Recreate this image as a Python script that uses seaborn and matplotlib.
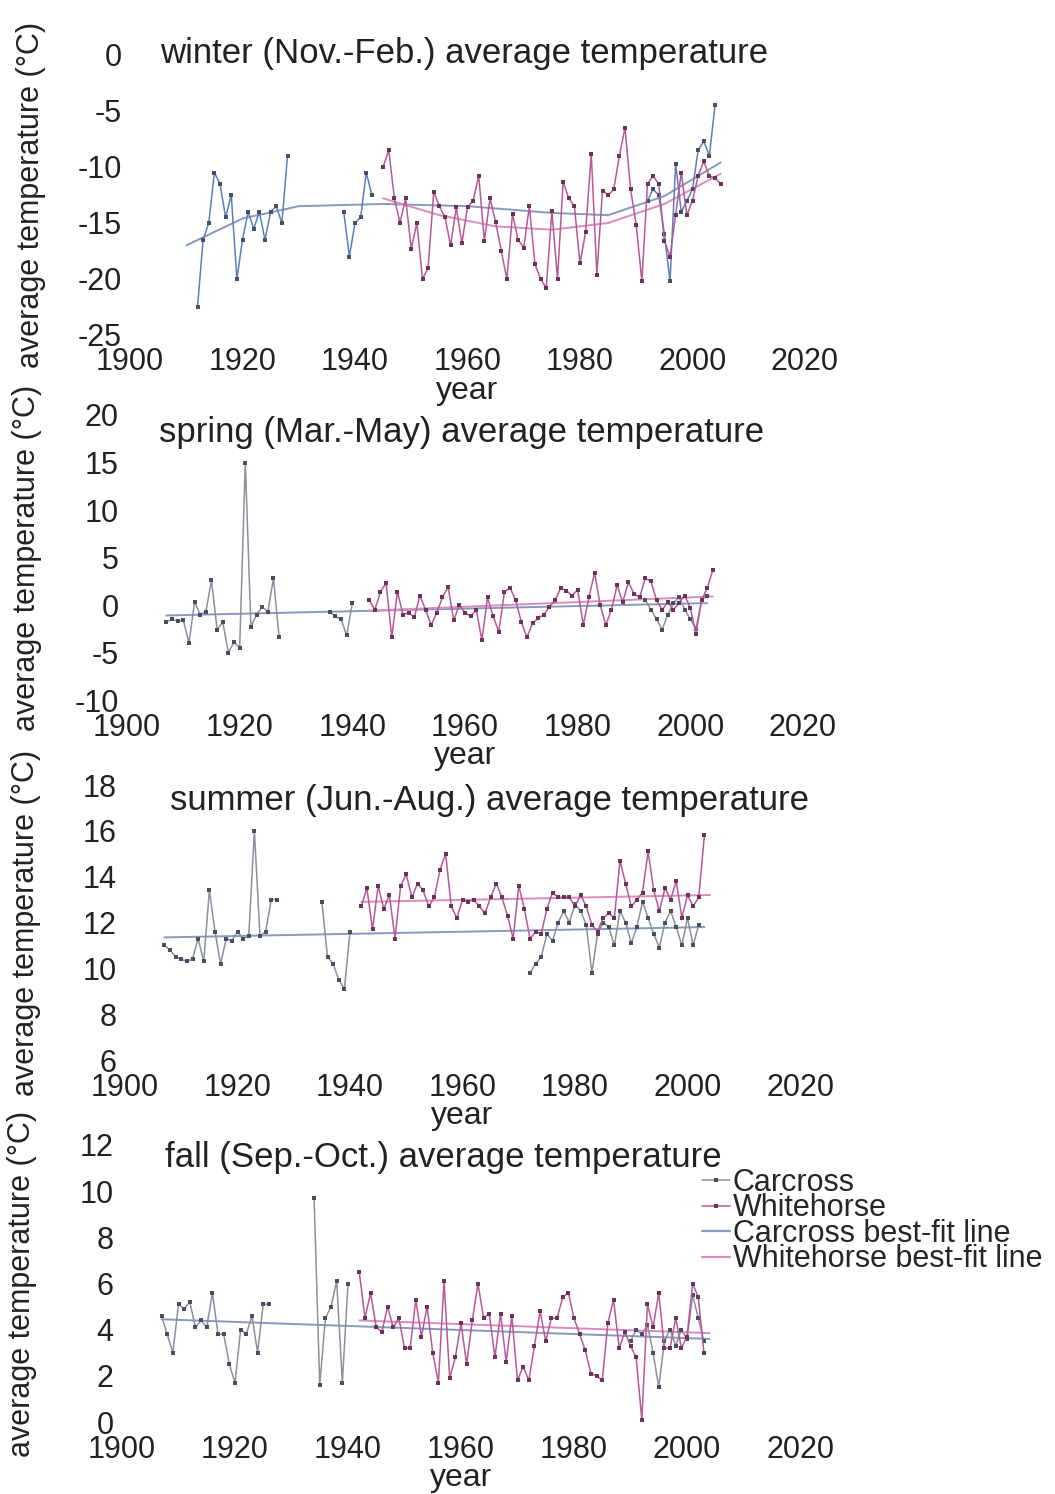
import numpy as np
import pandas as pd
import matplotlib
matplotlib.use("Agg")
import matplotlib.pyplot as plt
import seaborn as sns
from matplotlib.lines import Line2D

# ---------------- data ----------------
# winter (Nov.-Feb.)
winter_cc_a_start = 1912
winter_cc_a = [-22.5, -16.5, -15.0, -10.5, -11.5, -14.5, -12.5, -20.0, -16.5, -14.0,
               -15.5, -14.0, -16.5, -14.0, -13.5, -15.0, -9.0]
winter_cc_b_start = 1938
winter_cc_b = [-14.0, -18.0, -15.0, -14.5, -10.5, -12.5]
winter_cc_c_start = 1992
winter_cc_c = [-13.0, -12.0, -12.5, -16.0, -20.2, -9.7, -14.0, -13.0, -12.0, -8.5,
               -7.7, -9.0, -4.5]
winter_wh_start = 1945
winter_wh = [-10.0, -8.5, -12.8, -15.0, -12.8, -17.3, -15.0, -20.0, -19.0, -12.2,
             -13.5, -14.5, -17.0, -13.6, -16.8, -13.6, -13.0, -10.8, -16.6, -12.8,
             -14.9, -17.5, -20.0, -14.2, -16.5, -17.2, -13.5, -18.7, -20.0, -20.8,
             -13.9, -20.0, -11.3, -12.8, -13.5, -18.6, -15.8, -8.8, -19.6, -12.1,
             -12.5, -12.0, -9.0, -6.5, -12.0, -15.2, -20.2, -11.5, -10.8, -11.5,
             -16.6, -18.0, -14.3, -10.5, -14.3, -13.0, -10.8, -9.5, -10.8, -11.0, -11.5]
winter_cc_fit_years = [1910, 1920, 1930, 1945, 1960, 1975, 1985, 1995, 2005]
winter_cc_fit = [-17.0, -14.6, -13.5, -13.3, -13.5, -14.1, -14.3, -12.6, -9.6]
winter_wh_fit_years = [1945, 1955, 1965, 1975, 1985, 1995, 2005]
winter_wh_fit = [-12.8, -14.3, -15.3, -15.6, -15.0, -13.3, -10.6]

# spring (Mar.-May)
spring_cc_a_start = 1907
spring_cc_a = [-1.8, -1.5, -1.7, -1.6, -4.0, 0.3, -1.0, -0.7, 2.6, -2.6,
               -1.8, -5.0, -3.9, -4.5, 15.0, -2.3, -1.0, -0.2, -0.7, 2.8, -3.4]
spring_cc_b_start = 1936
spring_cc_b = [-0.7, -1.2, -1.5, -3.2, 0.2]
spring_cc_c_start = 1992
spring_cc_c = [0.5, -0.5, -1.5, -2.6, -1.0, 0.2, 0.8, -0.5, -1.5, -2.5, 0.5, 1.0]
spring_wh_start = 1943
spring_wh = [0.5, -0.5, 1.4, 2.3, -3.4, 1.4, -1.0, -0.8, -1.3, 1.0,
             -0.5, -2.1, -0.8, 0.8, 1.9, -1.6, 0.0, -0.8, -1.2, -0.5,
             -3.7, 0.8, -1.2, -2.8, 1.4, 1.8, 0.5, -1.8, -3.4, -1.9,
             -1.4, -1.0, -0.2, 0.5, 1.8, 1.5, 1.0, 1.6, -2.1, 0.8,
             3.4, 0.0, -2.1, -0.5, 2.1, 0.3, 2.4, 1.2, 0.8, 2.8,
             2.5, 0.5, -0.5, 0.3, -0.5, 0.2, 1.0, -0.3, -3.0, 0.5, 1.8, 3.7]
spring_cc_fit_years = [1907, 2003]
spring_cc_fit = [-1.1, 0.2]
spring_wh_fit_years = [1943, 2004]
spring_wh_fit = [-0.6, 0.9]

# summer (Jun.-Aug.)
summer_cc_a_start = 1907
summer_cc_a = [11.0, 10.8, 10.5, 10.4, 10.3, 10.4, 11.3, 10.3, 13.4, 11.6,
               10.2, 11.3, 11.2, 11.6, 11.3, 11.4, 16.0, 11.4, 11.6, 13.0, 13.0]
summer_cc_b_start = 1935
summer_cc_b = [12.9, 10.5, 10.2, 9.5, 9.1, 11.6]
summer_cc_c_start = 1972
summer_cc_c = [9.8, 10.2, 10.5, 11.5, 11.2, 12.0, 12.5, 12.0, 12.8, 12.5,
               11.9, 9.8, 11.5, 12.0, 11.8, 11.0, 12.5, 12.0, 11.1, 11.8,
               12.9, 12.2, 11.5, 10.9, 12.0, 12.5, 11.8, 11.0, 12.2, 11.0, 11.9]
summer_wh_start = 1942
summer_wh = [12.7, 13.5, 11.7, 13.6, 12.6, 13.2, 11.3, 13.6, 14.1, 13.1,
             13.7, 13.4, 12.7, 13.1, 14.3, 15.0, 12.7, 12.2, 13.0, 12.9,
             13.0, 12.7, 12.4, 13.1, 13.7, 13.1, 12.3, 11.3, 13.6, 12.6,
             11.3, 11.6, 11.5, 12.6, 13.3, 13.1, 13.1, 13.1, 12.7, 13.2,
             12.7, 11.9, 11.6, 12.2, 12.4, 12.2, 14.7, 13.7, 12.7, 13.0,
             13.3, 15.1, 13.4, 12.5, 13.5, 13.0, 13.8, 12.2, 13.2, 12.7, 13.1, 15.8]
summer_cc_fit_years = [1907, 2003]
summer_cc_fit = [11.35, 11.8]
summer_wh_fit_years = [1942, 2004]
summer_wh_fit = [12.9, 13.2]

# fall (Sep.-Oct.)
fall_cc_a_start = 1907
fall_cc_a = [4.6, 3.8, 3.0, 5.1, 4.9, 5.2, 4.1, 4.4, 4.1, 5.6,
             3.8, 3.8, 2.5, 1.7, 4.0, 3.8, 4.6, 3.0, 5.1, 5.1]
fall_cc_b_start = 1934
fall_cc_b = [9.7, 1.6, 4.5, 5.0, 6.1, 1.7, 6.0]
fall_cc_c_start = 1990
fall_cc_c = [3.5, 4.0, 3.8, 4.2, 3.0, 1.5, 3.5, 4.0, 3.3, 4.0, 3.6, 5.5, 4.5, 3.5]
fall_wh_start = 1942
fall_wh = [6.5, 4.5, 5.6, 4.1, 3.9, 5.0, 4.1, 4.5, 3.2, 3.2,
           5.3, 3.7, 5.0, 3.0, 1.7, 6.1, 1.9, 2.8, 4.3, 2.5,
           4.4, 6.0, 4.5, 4.7, 2.8, 4.7, 2.6, 4.6, 1.8, 2.4,
           1.8, 3.3, 4.8, 3.5, 4.5, 4.5, 5.4, 5.6, 4.5, 3.8,
           3.1, 2.1, 2.0, 1.8, 4.3, 5.3, 3.2, 3.9, 3.3, 2.8,
           0.1, 5.1, 4.1, 5.6, 3.2, 3.2, 4.5, 3.2, 3.7, 6.0, 5.4, 3.0]
fall_cc_fit_years = [1907, 2004]
fall_cc_fit = [4.45, 3.6]
fall_wh_fit_years = [1942, 2004]
fall_wh_fit = [4.4, 3.85]

titles = ["winter (Nov.-Feb.) average temperature",
          "spring (Mar.-May) average temperature",
          "summer (Jun.-Aug.) average temperature",
          "fall (Sep.-Oct.) average temperature"]
x_ticks = [1900, 1920, 1940, 1960, 1980, 2000, 2020]
y_ticks_list = [[-25, -20, -15, -10, -5, 0],
                [-10, -5, 0, 5, 10, 15, 20],
                [6, 8, 10, 12, 14, 16, 18],
                [0, 2, 4, 6, 8, 10, 12]]
legend_labels = ["Carcross", "Whitehorse", "Carcross best-fit line",
                 "Whitehorse best-fit line"]

# ---------------- style ----------------
sns.set_theme(style="white")
plt.rcParams['font.family'] = ['Liberation Sans', 'DejaVu Sans']
FS_TICK = 22
FS_TITLE = 25
FS_YLAB = 22
FS_XLAB = 23
FS_LEG = 22
TXT = "#222222"

CC_BLUE = "#5a7fbd"
CC_GRAY = "#8a90a0"
CC_MARK = "#4a4f60"
WH_LINE = "#b9579b"
WH_MARK = "#6b3358"
CC_FIT = "#8799bd"
WH_FIT = "#d98cbd"

def seg_frame(start, vals, seg):
    return pd.DataFrame({"year": np.arange(start, start + len(vals)),
                         "temp": vals, "seg": seg})

panels = [
    dict(cc=[(winter_cc_a_start, winter_cc_a), (winter_cc_b_start, winter_cc_b),
             (winter_cc_c_start, winter_cc_c)],
         wh=(winter_wh_start, winter_wh),
         ccfit=(winter_cc_fit_years, winter_cc_fit), whfit=(winter_wh_fit_years, winter_wh_fit),
         cc_color=CC_BLUE, pos=(130, 805, 55, 335), title_xy=(0.045, 1.005)),
    dict(cc=[(spring_cc_a_start, spring_cc_a), (spring_cc_b_start, spring_cc_b),
             (spring_cc_c_start, spring_cc_c)],
         wh=(spring_wh_start, spring_wh),
         ccfit=(spring_cc_fit_years, spring_cc_fit), whfit=(spring_wh_fit_years, spring_wh_fit),
         cc_color=CC_GRAY, pos=(127, 803, 415, 700), title_xy=(0.048, 0.94)),
    dict(cc=[(summer_cc_a_start, summer_cc_a), (summer_cc_b_start, summer_cc_b),
             (summer_cc_c_start, summer_cc_c)],
         wh=(summer_wh_start, summer_wh),
         ccfit=(summer_cc_fit_years, summer_cc_fit), whfit=(summer_wh_fit_years, summer_wh_fit),
         cc_color=CC_GRAY, pos=(125, 800, 785, 1060), title_xy=(0.066, 0.945)),
    dict(cc=[(fall_cc_a_start, fall_cc_a), (fall_cc_b_start, fall_cc_b),
             (fall_cc_c_start, fall_cc_c)],
         wh=(fall_wh_start, fall_wh),
         ccfit=(fall_cc_fit_years, fall_cc_fit), whfit=(fall_wh_fit_years, fall_wh_fit),
         cc_color=CC_GRAY, pos=(122, 800, 1145, 1422), title_xy=(0.063, 0.955)),
]

W, H = 1055, 1494
fig = plt.figure(figsize=(W / 100, H / 100), dpi=100)
fig.patch.set_facecolor("white")

for i, p in enumerate(panels):
    x0, x1, y0, y1 = p["pos"]
    ax = fig.add_axes([x0 / W, 1 - y1 / H, (x1 - x0) / W, (y1 - y0) / H])
    ax.set_facecolor("none")

    cc_df = pd.concat([seg_frame(s, v, k) for k, (s, v) in enumerate(p["cc"])],
                      ignore_index=True)
    wh_df = seg_frame(p["wh"][0], p["wh"][1], 0)
    ccfit_df = pd.DataFrame({"year": p["ccfit"][0], "temp": p["ccfit"][1]})
    whfit_df = pd.DataFrame({"year": p["whfit"][0], "temp": p["whfit"][1]})

    sns.lineplot(data=ccfit_df, x="year", y="temp", ax=ax, color=CC_FIT,
                 linewidth=1.4, estimator=None, sort=False, legend=False)
    sns.lineplot(data=whfit_df, x="year", y="temp", ax=ax, color=WH_FIT,
                 linewidth=1.4, estimator=None, sort=False, legend=False)
    sns.lineplot(data=cc_df, x="year", y="temp", units="seg", ax=ax,
                 color=p["cc_color"], linewidth=1.1, estimator=None, sort=False,
                 legend=False, marker="s", markersize=2.5, markeredgewidth=0,
                 markerfacecolor=CC_MARK)
    sns.lineplot(data=wh_df, x="year", y="temp", ax=ax, color=WH_LINE,
                 linewidth=1.1, estimator=None, sort=False, legend=False,
                 marker="s", markersize=3.5, markeredgewidth=0,
                 markerfacecolor=WH_MARK)

    yt = y_ticks_list[i]
    ax.set_xlim(x_ticks[0], x_ticks[-1])
    ax.set_ylim(yt[0], yt[-1])
    ax.set_xticks(x_ticks)
    ax.set_yticks(yt)
    ax.set_xticklabels([str(t) for t in x_ticks], fontsize=FS_TICK, color=TXT)
    ax.set_yticklabels([str(t) for t in yt], fontsize=FS_TICK, color=TXT)
    ax.tick_params(axis="both", length=0)
    ax.tick_params(axis="x", pad=9)
    ax.tick_params(axis="y", pad=6)
    for s in ax.spines.values():
        s.set_visible(False)
    ax.set_xlabel("year", fontsize=FS_XLAB, color=TXT, labelpad=-1)
    ax.set_ylabel("average temperature (°C)", fontsize=FS_YLAB, color=TXT)
    ax.yaxis.set_label_coords(-0.125, 0.5)
    ax.text(p["title_xy"][0], p["title_xy"][1], titles[i], transform=ax.transAxes,
            fontsize=FS_TITLE, color=TXT, ha="left", va="center")

handles = [Line2D([], [], color=CC_GRAY, lw=1.1, marker="s", markersize=2.5,
                  markeredgewidth=0, markerfacecolor=CC_MARK),
           Line2D([], [], color=WH_LINE, lw=1.1, marker="s", markersize=3.5,
                  markeredgewidth=0, markerfacecolor=WH_MARK),
           Line2D([], [], color=CC_FIT, lw=1.6),
           Line2D([], [], color=WH_FIT, lw=1.6)]
fig.legend(handles, legend_labels, loc="upper left",
           bbox_to_anchor=(702 / W, 1 - 1168 / H), frameon=False, fontsize=FS_LEG,
           handlelength=0.9, handletextpad=0.1, labelspacing=-0.15, borderpad=0,
           borderaxespad=0)

fig.savefig("out.png", dpi=100, facecolor="white")
